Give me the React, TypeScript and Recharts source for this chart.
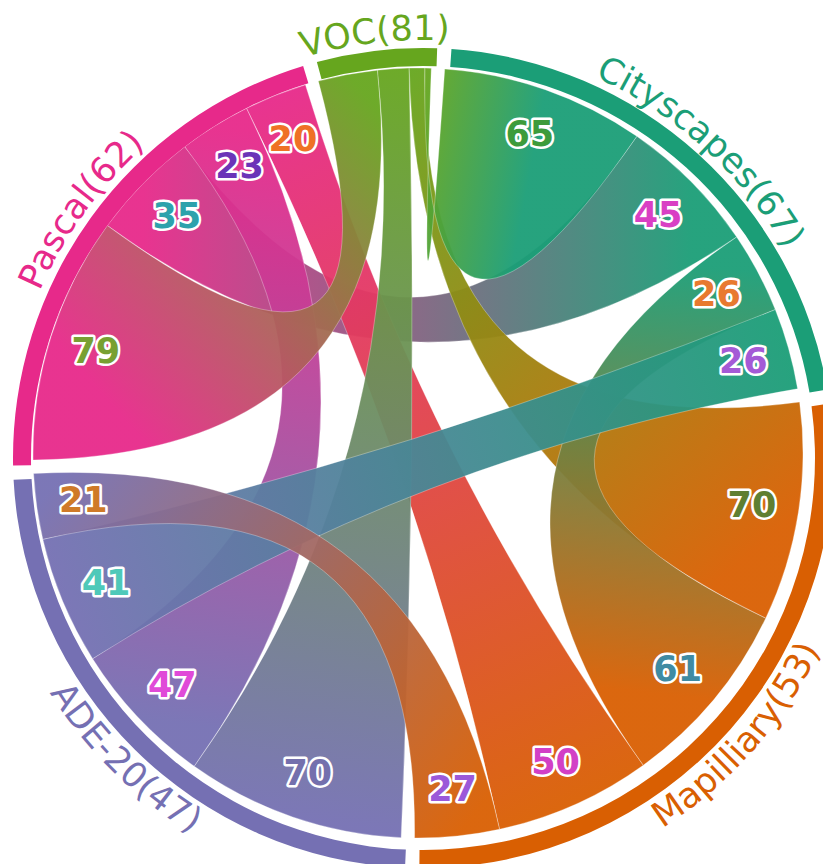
import React from 'react'
import { PieChart, Pie, Cell, Customized } from 'recharts'

const groupNames = ['VOC(81)', 'Cityscapes(67)', 'Mapilliary(53)', 'ADE-20(47)', 'Pascal(62)']
const groupColors = ['#66a61e', '#1b9e77', '#d95f02', '#7570b3', '#e7298a']

// flow from the row group to each column group: VOC, Cityscapes, Mapilliary, ADE-20, Pascal
const vocRow = [0, 2, 5, 10, 19]
const cityscapesRow = [65, 0, 26, 26, 45]
const mapilliaryRow = [70, 61, 0, 27, 50]
const adeRow = [70, 41, 21, 0, 47]
const pascalRow = [79, 35, 20, 23, 0]
const matrix = [vocRow, cityscapesRow, mapilliaryRow, adeRow, pascalRow]

// value label colours (null = no label)
const labelColors: (string | null)[][] = [
  [null, null, null, null, null],
  ['#3d9b3b', null, '#e8792f', '#a45ad6', '#d93fc4'],
  ['#5f7f32', '#3f8ba3', null, '#9b59d9', '#d23fc6'],
  ['#7470ad', '#4ec9b9', '#cf7a28', null, '#e04ad8'],
  ['#78a032', '#2da2ac', '#ef7125', '#6b34b8', null],
]

// ribbons are painted in this order (later on top)
const chordOrder = [[1, 4], [3, 4], [2, 4], [0, 4], [0, 3], [0, 2], [1, 2], [0, 1], [1, 3], [2, 3]]

const W = 823
const H = 856
const CX = 410
const CY = 445
const R_OUT = 410
const R_IN = 392
const R_CHORD = 385
const R_LABEL = 338
const START = -15 // degrees clockwise from 12 o'clock
const PAD = 2
const FONT = '"DejaVu Sans", Verdana, sans-serif'

const rowSums = matrix.map(r => r.reduce((a, b) => a + b, 0))
const total = rowSums.reduce((a, b) => a + b, 0)
const k = (360 - PAD * matrix.length) / total

// sub-arc angles [start, end] for group i, partner j (same maths as the Pie)
const sub: number[][][] = matrix.map(() => matrix.map(() => [0, 0]))
{
  let a = START
  matrix.forEach((row, i) => {
    const order = row.map((v, j) => j).filter(j => row[j] > 0).sort((x, y) => row[y] - row[x])
    order.forEach(j => {
      sub[i][j] = [a, a + row[j] * k]
      a += row[j] * k
    })
    a += PAD
  })
}

const pt = (deg: number, r: number, cx = CX, cy = CY) => {
  const t = (deg * Math.PI) / 180
  return [cx + r * Math.sin(t), cy - r * Math.cos(t)]
}

function ribbon(s: number[], t: number[]) {
  const r = R_CHORD
  const [s0, s1] = [pt(s[0], r), pt(s[1], r)]
  const [t0, t1] = [pt(t[0], r), pt(t[1], r)]
  return `M${s0[0]},${s0[1]} A${r},${r} 0 0 1 ${s1[0]},${s1[1]} Q${CX},${CY} ${t0[0]},${t0[1]} A${r},${r} 0 0 1 ${t1[0]},${t1[1]} Q${CX},${CY} ${s0[0]},${s0[1]} Z`
}

function Chords() {
  return (
    <g>
      <defs>
        {chordOrder.map(([i, j]) => {
          const a = pt((sub[i][j][0] + sub[i][j][1]) / 2, R_CHORD)
          const b = pt((sub[j][i][0] + sub[j][i][1]) / 2, R_CHORD)
          return (
            <linearGradient key={`g${i}${j}`} id={`g${i}${j}`} gradientUnits="userSpaceOnUse" x1={a[0]} y1={a[1]} x2={b[0]} y2={b[1]}>
              <stop offset="0%" stopColor={groupColors[i]} />
              <stop offset="100%" stopColor={groupColors[j]} />
            </linearGradient>
          )
        })}
      </defs>
      {chordOrder.map(([i, j]) => (
        <path key={`c${i}${j}`} d={ribbon(sub[i][j], sub[j][i])} fill={`url(#g${i}${j})`} fillOpacity={0.95}
          stroke="#ffffff" strokeOpacity={0.3} strokeWidth={1} />
      ))}
      {matrix.map((row, i) => row.map((v, j) => {
        const c = labelColors[i][j]
        if (!c || v <= 0) return null
        const p = pt((sub[i][j][0] + sub[i][j][1]) / 2, R_LABEL)
        return (
          <text key={`l${i}${j}`} x={p[0]} y={p[1]} textAnchor="middle" dominantBaseline="central"
            fontFamily={FONT} fontWeight="bold" fontSize={35} fill={c}
            stroke="#ffffff" strokeWidth={5} strokeLinejoin="round" paintOrder="stroke">
            {v}
          </text>
        )
      }))}
    </g>
  )
}

const groupData = groupNames.map((name, i) => ({ name, value: rowSums[i] }))

const renderGroupLabel = (props: any) => {
  const { cx, cy, midAngle, index } = props
  const mid = 90 - midAngle
  const m = ((mid % 360) + 360) % 360
  const flip = m > 90 && m < 270
  const r = flip ? 441 : 418
  const a = pt(mid - 60, r, cx, cy)
  const b = pt(mid + 60, r, cx, cy)
  const d = flip
    ? `M${b[0]},${b[1]} A${r},${r} 0 0 0 ${a[0]},${a[1]}`
    : `M${a[0]},${a[1]} A${r},${r} 0 0 1 ${b[0]},${b[1]}`
  return (
    <g key={`gl${index}`}>
      <path id={`gp${index}`} d={d} fill="none" stroke="none" />
      <text fontFamily={FONT} fontSize={35} fill={groupColors[index]}>
        <textPath href={`#gp${index}`} startOffset="50%" textAnchor="middle">{groupNames[index]}</textPath>
      </text>
    </g>
  )
}

export default function App() {
  return (
    <PieChart width={W} height={H}>
      <Customized component={Chords} />
      <Pie data={groupData} dataKey="value" nameKey="name" cx={CX} cy={CY}
        innerRadius={R_IN} outerRadius={R_OUT} startAngle={90 - START} endAngle={90 - START - 360}
        paddingAngle={PAD} stroke="none" label={renderGroupLabel} labelLine={false} isAnimationActive={false}>
        {groupData.map((d, i) => <Cell key={d.name} fill={groupColors[i]} />)}
      </Pie>
    </PieChart>
  )
}
